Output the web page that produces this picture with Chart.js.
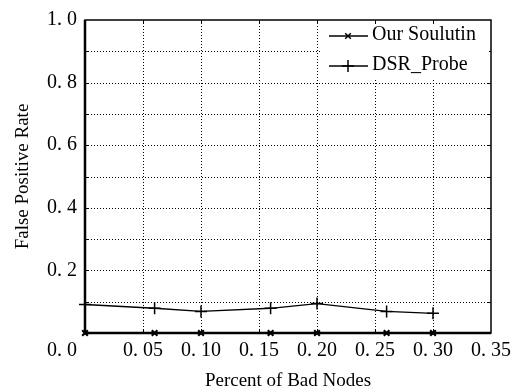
<!DOCTYPE html>
<html>
<head>
<meta charset="utf-8">
<script src="https://cdn.jsdelivr.net/npm/chart.js@4"></script>
<style>
  html, body { margin: 0; padding: 0; background: #fff; }
  #wrap { width: 527px; height: 392px; }
</style>
</head>
<body>
<div id="wrap"><canvas id="grafico" width="527" height="392"></canvas></div>
<script>
// dados
const percentuais = [0, 0.06, 0.10, 0.16, 0.20, 0.26, 0.30]
const nossaSolucao = [0, 0, 0, 0, 0, 0, 0]
const dsrProbe = [0.091, 0.079, 0.069, 0.079, 0.094, 0.069, 0.063]
const nomesSeries = ['Our Soulutin', 'DSR_Probe']
const tituloX = 'Percent of Bad Nodes'
const tituloY = 'False Positive Rate'

const fonte = "'Liberation Serif', 'DejaVu Serif', serif"

// formata "0. 2" como na figura
const formata = (v, casas) => {
    const s = v.toFixed(casas)
    return s.replace('.', '. ')
}

const pontos = (ys) => percentuais.map((x, i) => ({ x: x, y: ys[i] }))

/*
* grade pontilhada (desenhada a mao, antes das series)
*/
const grade = {
    id: 'grade',
    beforeDatasetsDraw(chart) {
        const ctx = chart.ctx
        const a = chart.chartArea
        const sx = chart.scales.x
        const sy = chart.scales.y
        ctx.save()
        ctx.strokeStyle = '#000'
        ctx.lineWidth = 1
        ctx.setLineDash([1, 2])
        ctx.beginPath()
        sy.ticks.forEach((t) => {
            if (t.value < 0.001 || t.value > 0.999) return
            const py = Math.round(sy.getPixelForValue(t.value)) + 0.5
            ctx.moveTo(a.left, py); ctx.lineTo(a.right, py)
        })
        sx.ticks.forEach((t) => {
            if (t.value < 0.001 || t.value > 0.349) return
            const px = Math.round(sx.getPixelForValue(t.value)) + 0.5
            ctx.moveTo(px, a.top); ctx.lineTo(px, a.bottom)
        })
        ctx.stroke()
        ctx.restore()
    }
}

/*
* moldura, marcas internas, legenda e o "0. 0" do canto
*/
const extras = {
    id: 'extras',
    afterDraw(chart) {
        const ctx = chart.ctx
        const a = chart.chartArea
        const sx = chart.scales.x
        const sy = chart.scales.y
        ctx.save()

        // marcas internas
        ctx.strokeStyle = '#000'
        ctx.lineWidth = 1
        ctx.beginPath()
        for (let v = 0.1; v < 0.95; v += 0.1) {
            const py = Math.round(sy.getPixelForValue(v)) + 0.5
            ctx.moveTo(a.right, py); ctx.lineTo(a.right - 4, py)
            ctx.moveTo(a.left, py); ctx.lineTo(a.left + 4, py)
        }
        for (let v = 0.05; v < 0.34; v += 0.05) {
            const px = Math.round(sx.getPixelForValue(v)) + 0.5
            ctx.moveTo(px, a.top); ctx.lineTo(px, a.top + 4)
            ctx.moveTo(px, a.bottom); ctx.lineTo(px, a.bottom - 4)
        }
        ctx.stroke()

        // legenda
        ctx.fillStyle = '#fff'
        ctx.fillRect(322, a.top + 5, a.right - 324, 55)
        const linhas = [
            { y: 36, estilo: 'crossRot', raio: 4 },
            { y: 66, estilo: 'cross', raio: 6 }
        ]
        linhas.forEach((l, i) => {
            ctx.strokeStyle = '#000'
            ctx.lineWidth = 1.5
            ctx.beginPath()
            ctx.moveTo(329, l.y); ctx.lineTo(368, l.y)
            ctx.stroke()
            Chart.helpers.drawPoint(ctx, { pointStyle: l.estilo, radius: l.raio, borderWidth: 2 }, 348, l.y)
            ctx.fillStyle = '#000'
            ctx.font = '20px ' + fonte
            ctx.textAlign = 'left'
            ctx.textBaseline = 'middle'
            ctx.fillText(nomesSeries[i], 372, l.y - 1)
        })

        // moldura
        ctx.strokeStyle = '#000'
        ctx.lineWidth = 1.5
        ctx.strokeRect(a.left, a.top, a.right - a.left, a.bottom - a.top)
        ctx.lineWidth = 2.5
        ctx.beginPath()
        ctx.moveTo(a.left, a.top); ctx.lineTo(a.left, a.bottom); ctx.lineTo(a.right, a.bottom)
        ctx.stroke()

        // rotulo do zero no canto
        ctx.fillStyle = '#000'
        ctx.font = '20px ' + fonte
        ctx.textAlign = 'right'
        ctx.textBaseline = 'middle'
        ctx.fillText(formata(0, 1), a.left - 8, 351)

        ctx.restore()
    }
}

const ctx = document.getElementById('grafico').getContext('2d')

const meuGrafico = new Chart(ctx, {
    type: 'line',
    data: {
        datasets: [{
            label: nomesSeries[0],
            data: pontos(nossaSolucao),
            borderColor: '#000',
            backgroundColor: '#000',
            borderWidth: 1.5,
            pointStyle: 'crossRot',
            pointRadius: 4,
            pointBorderWidth: 2.2,
            clip: false
        }, {
            label: nomesSeries[1],
            data: pontos(dsrProbe),
            borderColor: '#000',
            backgroundColor: '#000',
            borderWidth: 1.3,
            pointStyle: 'cross',
            pointRadius: 6,
            pointBorderWidth: 1.5,
            clip: false
        }]
    },
    options: {
        responsive: false,
        animation: false,
        layout: { padding: { top: 15, right: 36, bottom: 0, left: 0 } },
        plugins: {
            legend: { display: false },
            tooltip: { enabled: false }
        },
        scales: {
            x: {
                type: 'linear',
                min: 0,
                max: 0.35,
                afterFit: (s) => { s.height = 59 },
                ticks: {
                    stepSize: 0.05,
                    color: '#000',
                    font: { family: fonte, size: 20 },
                    padding: 6,
                    maxRotation: 0,
                    callback: (v) => v === 0 ? '' : formata(v, 2)
                },
                grid: { display: false, drawTicks: false },
                border: { display: false },
                title: {
                    display: true,
                    text: tituloX,
                    color: '#000',
                    font: { family: fonte, size: 19 },
                    padding: { top: 0, bottom: 0 }
                }
            },
            y: {
                min: 0,
                max: 1,
                afterFit: (s) => { s.width = 85 },
                ticks: {
                    stepSize: 0.1,
                    color: '#000',
                    font: { family: fonte, size: 20 },
                    padding: 8,
                    callback: (v) => {
                        const k = Math.round(v * 10)
                        if (k === 0 || k % 2 !== 0) return ''
                        return formata(v, 1)
                    }
                },
                grid: { display: false, drawTicks: false },
                border: { display: false },
                title: {
                    display: true,
                    text: tituloY,
                    color: '#000',
                    font: { family: fonte, size: 19 },
                    padding: { top: 12, bottom: 0 }
                }
            }
        }
    },
    plugins: [grade, extras]
})
</script>
</body>
</html>
